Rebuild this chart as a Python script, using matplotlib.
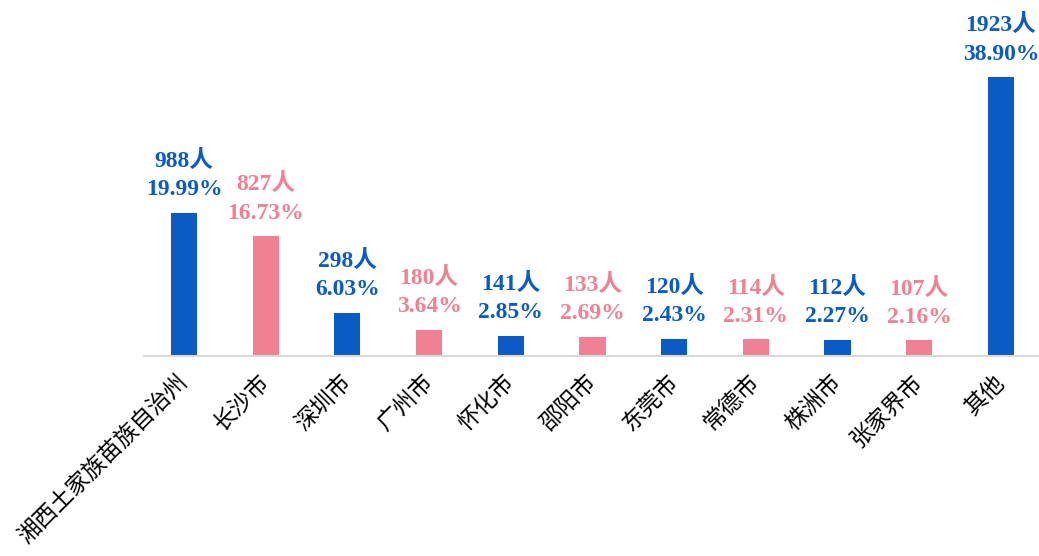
import matplotlib
matplotlib.use('Agg')
import matplotlib.pyplot as plt

# data
cities = ['湘西土家族苗族自治州', '长沙市', '深圳市', '广州市', '怀化市', '邵阳市',
          '东莞市', '常德市', '株洲市', '张家界市', '其他']
counts = [988, 827, 298, 180, 141, 133, 120, 114, 112, 107, 1923]
shares = [19.99, 16.73, 6.03, 3.64, 2.85, 2.69, 2.43, 2.31, 2.27, 2.16, 38.90]

blue = '#0b5bc6'
pink = '#f08094'
colors = [blue if i % 2 == 0 else pink for i in range(len(cities))]

fig = plt.figure(figsize=(10.39, 5.56), dpi=100)
ax = fig.add_axes([0.1386, 0.3597, 0.864, 0.6403])

x = list(range(len(cities)))
bars = ax.bar(x, counts, width=0.32, color=colors, zorder=2)

# value labels above each bar
for xi, c, s, col in zip(x, counts, shares, colors):
    ax.annotate('%d人\n%.2f%%' % (c, s), xy=(xi, c), xytext=(0, 9),
                textcoords='offset points', ha='center', va='bottom',
                color=col, fontsize=17, fontweight='bold', linespacing=1.45,
                family=['Liberation Serif', 'Noto Sans CJK SC'])

ax.set_xlim(-0.49, 10.5)
ax.set_ylim(0, 2454)
ax.set_yticks([])
ax.set_xticks(x)
ax.set_xticklabels(cities, rotation=45, ha='right', va='center',
                   rotation_mode='anchor', fontsize=16.5,
                   family=['Noto Sans CJK SC'], fontweight='light')
ax.tick_params(axis='x', length=0, pad=16)

for side in ['left', 'right', 'top']:
    ax.spines[side].set_visible(False)
ax.spines['bottom'].set_color('#d9d9d9')
ax.spines['bottom'].set_linewidth(1.5)

fig.savefig('out.png', dpi=100)
